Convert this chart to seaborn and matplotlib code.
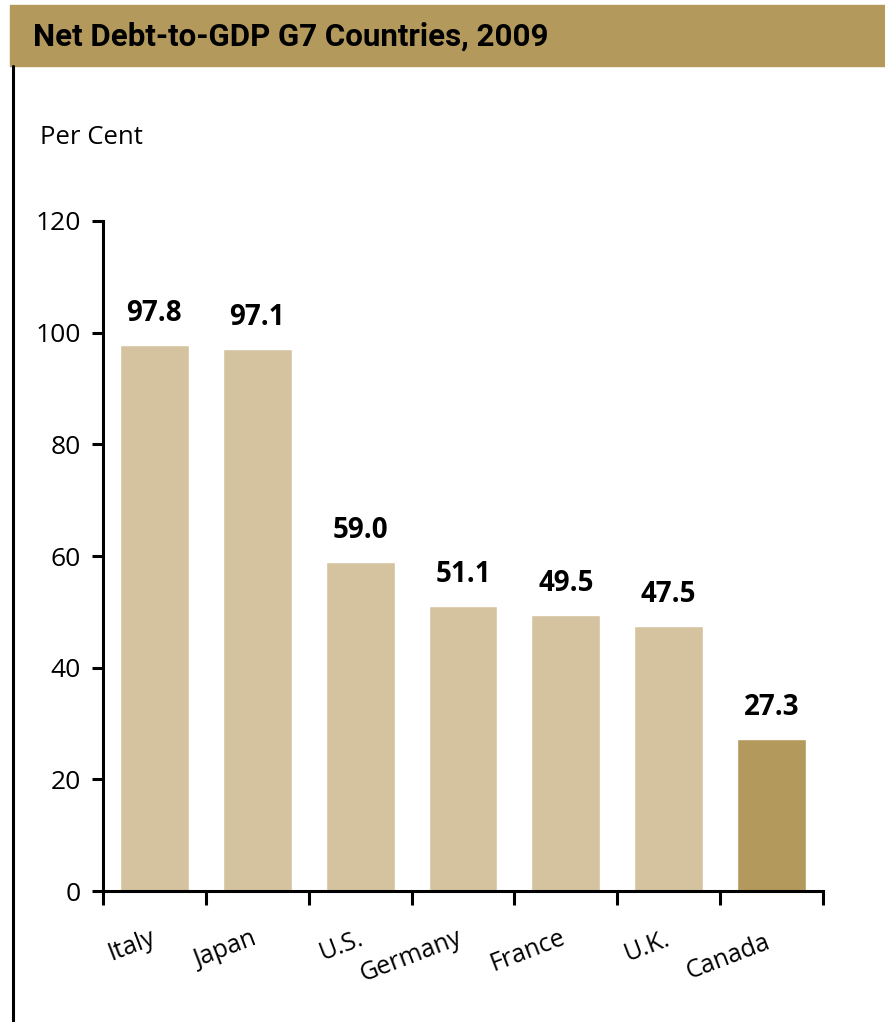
import matplotlib
matplotlib.use("Agg")
import matplotlib.pyplot as plt
import matplotlib.patches as mpatches
import matplotlib.lines as mlines
import seaborn as sns
import pandas as pd

countries = ["Italy", "Japan", "U.S.", "Germany", "France", "U.K.", "Canada"]
net_debt = [97.8, 97.1, 59.0, 51.1, 49.5, 47.5, 27.3]
y_ticks = [0, 20, 40, 60, 80, 100, 120]
title = "Net Debt-to-GDP G7 Countries, 2009"
unit_label = "Per Cent"

LIGHT = "#D4C39E"
GOLD = "#B39A5C"

sns.set_theme(style="white")
plt.rcParams["font.family"] = ["Open Sans", "DejaVu Sans"]
plt.rcParams["text.color"] = "black"

df = pd.DataFrame({"country": countries, "debt": net_debt})
colors = [GOLD if c == "Canada" else LIGHT for c in countries]

fig = plt.figure(figsize=(8.85, 10.22), dpi=100)

# header band with title
fig.patches.append(mpatches.Rectangle((10 / 885, 1 - 66 / 1022), 1, 61 / 1022,
                                      transform=fig.transFigure, color=GOLD, zorder=0))
fig.text(33 / 885, 1 - 37 / 1022, title, fontsize=22.5, fontweight="bold",
         family=["Roboto", "DejaVu Sans"], va="center", ha="left", color="black")
# left rule below header
fig.lines.append(mlines.Line2D([13 / 885, 13 / 885], [0, 1 - 66 / 1022],
                               transform=fig.transFigure, color="black", lw=2.2))
fig.text(40 / 885, 1 - 138 / 1022, unit_label, fontsize=18.5, va="center", ha="left",
         color="black")

ax = fig.add_axes([103 / 885, 1 - 891 / 1022, 720 / 885, 670 / 1022])
sns.barplot(data=df, x="country", y="debt", hue="country", palette=colors,
            width=0.67, legend=False, saturation=1, ax=ax)

ax.set_xlim(-0.5, len(countries) - 0.5)
ax.set_ylim(0, 120)
ax.set_yticks(y_ticks)
ax.set_yticklabels([str(t) for t in y_ticks], fontsize=19, color="black")
ax.set_xticks([i - 0.5 for i in range(len(countries) + 1)])
ax.set_xticklabels([])
ax.set_xlabel("")
ax.set_ylabel("")
for side in ("top", "right"):
    ax.spines[side].set_visible(False)
for side in ("left", "bottom"):
    ax.spines[side].set_color("black")
    ax.spines[side].set_linewidth(2.2)
ax.tick_params(axis="y", direction="out", length=8, width=2.2, colors="black", pad=8,
               left=True)
ax.tick_params(axis="x", direction="out", length=10, width=2.2, colors="black",
               bottom=True)

# value labels above bars
for i, v in enumerate(net_debt):
    ax.annotate(f"{v:.1f}", xy=(i, v), xytext=(0, 17), textcoords="offset pixels",
                ha="center", va="bottom", fontsize=20, fontweight="bold",
                color="black")

# staggered, slanted category labels
label_offsets = [(-23, -55), (-31, -59), (-19, -55), (-52, -65),
                 (-38, -60), (-21, -56), (-43, -66)]
for i, (name, (dx, dy)) in enumerate(zip(countries, label_offsets)):
    ax.annotate(name, xy=(i, 0), xycoords=("data", "axes fraction"),
                xytext=(dx, dy), textcoords="offset pixels", ha="center",
                va="center", rotation=21, fontsize=18, rotation_mode="anchor",
                color="black")

fig.savefig("out.png", dpi=100)
